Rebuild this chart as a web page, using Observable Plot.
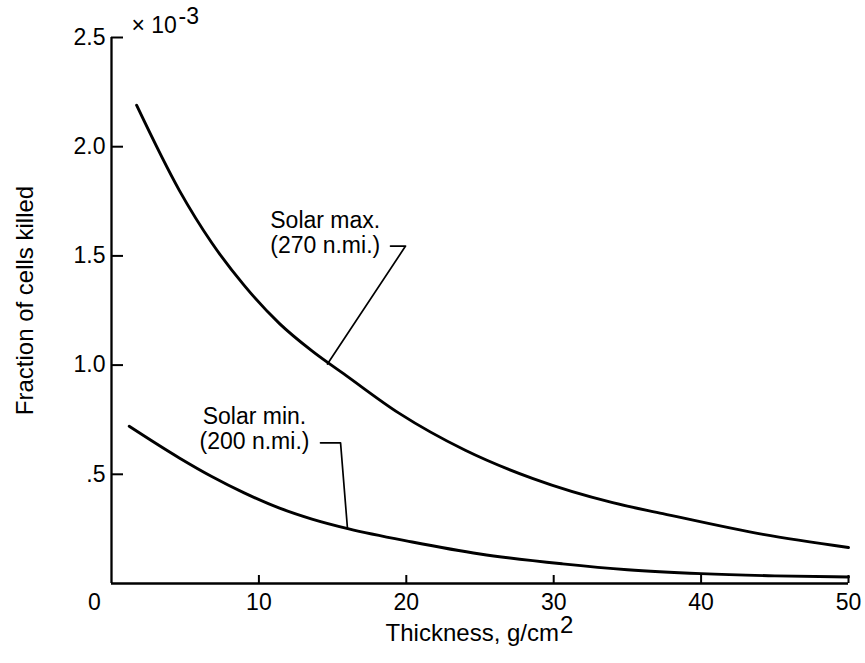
<!DOCTYPE html>
<html>
<head>
<meta charset="utf-8">
<script src="https://cdn.jsdelivr.net/npm/d3@7"></script>
<script src="https://cdn.jsdelivr.net/npm/@observablehq/plot@0.6"></script>
<style>
  html, body { margin: 0; padding: 0; background: #fff; }
  #chart svg { display: block; }
</style>
</head>
<body>
<div id="chart"></div>
<script>
// Shield thickness (g/cm^2) and fraction of cells killed (units of 10^-3)
const maxThickness = [1.7, 4.6, 6.8, 9.0, 11.4, 13.6, 15.9, 19.5, 24.0, 28.6, 34.0, 37.4, 44.2, 50];
const maxFraction  = [2.19, 1.80, 1.56, 1.365, 1.19, 1.065, 0.953, 0.78, 0.61, 0.48, 0.37, 0.32, 0.225, 0.165];

const minThickness = [1.2, 4.6, 6.8, 9.0, 11.4, 13.6, 16.1, 20.4, 25.0, 30.6, 35.0, 40.0, 45.0, 50];
const minFraction  = [0.72, 0.575, 0.49, 0.415, 0.345, 0.295, 0.25, 0.19, 0.135, 0.09, 0.063, 0.045, 0.035, 0.03];

// Axis ticks and their printed labels
const xTicks = [10, 20, 30, 40, 50];
const xTickLabels = ["10", "20", "30", "40", "50"];
const yTicks = [2.5, 2.0, 1.5, 1.0, 0.5];
const yTickLabels = ["2.5", "2.0", "1.5", "1.0", ".5"];

// Curve labels and their leader lines
const curveLabels = [
  {lines: ["Solar max.", "(270 n.mi.)"], x: 14.5, y: [1.627, 1.513]},
  {lines: ["Solar min.", "(200 n.mi.)"], x: 9.7, y: [0.73, 0.615]}
];
const maxLeader = [{x: 18.93, y: 1.545}, {x: 19.95, y: 1.545}, {x: 14.65, y: 1.005}];
const minLeader = [{x: 14.18, y: 0.644}, {x: 15.54, y: 0.644}, {x: 16.01, y: 0.251}];

const maxData = maxThickness.map((t, i) => ({t, f: maxFraction[i]}));
const minData = minThickness.map((t, i) => ({t, f: minFraction[i]}));

const labelTexts = curveLabels.flatMap(c => c.lines.map((s, i) => ({s, x: c.x, y: c.y[i]})));

const font = "'Liberation Sans', Arial, Helvetica, sans-serif";
const fs = 23;   // tick and curve labels
const ft = 24;   // axis titles

const chart = Plot.plot({
  width: 865,
  height: 663,
  marginLeft: 111,
  marginRight: 17,
  marginTop: 37,
  marginBottom: 80,
  x: {domain: [0, 50], axis: null},
  y: {domain: [0, 2.5], axis: null},
  style: {fontFamily: font, fontSize: fs + "px", color: "#000", background: "#fff"},
  marks: [
    // axis frame lines
    Plot.ruleX([0], {stroke: "#000", strokeWidth: 2.3}),
    Plot.ruleY([0], {stroke: "#000", strokeWidth: 2.3}),
    // inward tick marks
    Plot.axisY(yTicks, {anchor: "left", tickSize: -12, strokeWidth: 2, fill: "none", label: null}),
    Plot.axisX(xTicks, {anchor: "bottom", tickSize: -8, strokeWidth: 2, fill: "none", label: null}),
    // tick labels
    Plot.text(yTicks, {x: 0, y: d => d, text: (d, i) => yTickLabels[i], textAnchor: "end", dx: -6, fontSize: fs, fill: "#000"}),
    Plot.text(xTicks, {x: d => d, y: 0, text: (d, i) => xTickLabels[i], lineAnchor: "top", dy: 10, fontSize: fs, fill: "#000"}),
    Plot.text(["0"], {x: 0, y: 0, text: d => d, lineAnchor: "top", dx: -17, dy: 10, fontSize: fs, fill: "#000"}),
    // scale multiplier
    Plot.text(["\u00d7 10"], {frameAnchor: "top-left", text: d => d, textAnchor: "start", lineAnchor: "bottom", dx: 20, dy: -5, fontSize: fs, fill: "#000"}),
    Plot.text(["-3"], {frameAnchor: "top-left", text: d => d, textAnchor: "start", lineAnchor: "bottom", dx: 67, dy: -14, fontSize: fs, fill: "#000"}),
    // axis titles
    Plot.text(["Fraction of cells killed"], {frameAnchor: "left", text: d => d, textAnchor: "middle", rotate: -90, dx: -86, dy: -10, fontSize: ft, fill: "#000"}),
    Plot.text(["Thickness, g/cm"], {frameAnchor: "bottom", text: d => d, textAnchor: "end", lineAnchor: "bottom", dx: 79, dy: 57, fontSize: ft, fill: "#000"}),
    Plot.text(["2"], {frameAnchor: "bottom", text: d => d, textAnchor: "start", lineAnchor: "bottom", dx: 80, dy: 49, fontSize: ft, fill: "#000"}),
    // curves
    Plot.line(maxData, {x: "t", y: "f", curve: "monotone-x", stroke: "#000", strokeWidth: 2.9}),
    Plot.line(minData, {x: "t", y: "f", curve: "monotone-x", stroke: "#000", strokeWidth: 2.9}),
    // leader lines
    Plot.line(maxLeader, {x: "x", y: "y", stroke: "#000", strokeWidth: 1.7}),
    Plot.line(minLeader, {x: "x", y: "y", stroke: "#000", strokeWidth: 1.7}),
    // curve labels
    Plot.text(labelTexts, {x: "x", y: "y", text: "s", textAnchor: "middle", lineAnchor: "bottom", fontSize: fs, fill: "#000"})
  ]
});

document.getElementById("chart").appendChild(chart);
</script>
</body>
</html>
